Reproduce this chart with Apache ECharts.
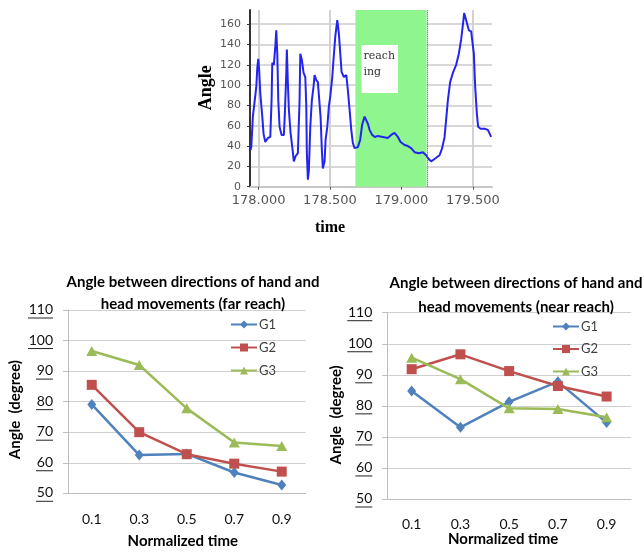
<!DOCTYPE html>
<html><head><meta charset="utf-8">
<script src="https://cdn.jsdelivr.net/npm/echarts@6/dist/echarts.min.js"></script>
<style>html,body{margin:0;padding:0;background:#fff}#c{width:644px;height:552px}</style>
</head><body><div id="c"></div>
<script>
// ---- Top chart: angle over time ----
const timeValues = [177.944,177.949,177.960,177.984,177.991,177.998,178.005,178.012,178.026,178.035,
 178.047,178.065,178.082,178.091,178.096,178.107,178.117,178.124,178.131,178.138,
 178.147,178.161,178.177,178.184,178.194,178.198,178.205,178.212,178.224,178.236,
 178.247,178.259,178.275,178.287,178.292,178.303,178.315,178.327,178.334,178.338,
 178.345,178.352,178.362,178.373,178.385,178.392,178.404,178.415,178.427,178.434,
 178.443,178.450,178.462,178.469,178.481,178.492,178.502,178.516,178.525,178.537,
 178.551,178.562,178.572,178.581,178.597,178.614,178.625,178.637,178.649,178.660,
 178.672,178.695,178.711,178.725,178.742,178.753,178.765,178.777,178.795,178.814,
 178.835,178.870,178.905,178.928,178.952,178.975,178.994,179.022,179.045,179.068,
 179.092,179.122,179.150,179.173,179.192,179.208,179.239,179.267,179.285,179.302,
 179.313,179.325,179.341,179.360,179.383,179.402,179.418,179.430,179.439,179.453,
 179.472,179.488,179.500,179.507,179.516,179.528,179.537,179.554,179.582,179.605,
 179.628];
const angleValues = [36,39,69,98,117,126,113,92,69,52,
 44,48,49,85,122,120,138,154,131,85,
 59,51,51,72,112,135,102,76,53,39,
 25,30,33,85,131,125,112,108,79,33,
 7,16,59,85,99,110,105,103,102,69,
 36,18,25,46,59,79,89,108,126,148,
 164,151,131,113,108,110,95,76,56,43,
 38,39,46,61,69,69,62,56,51,49,
 50,49,48,51,53,49,44,41,40,38,
 34,33,34,31,27,25,28,31,38,49,
 66,85,103,112,120,131,145,159,171,164,
 154,153,153,131,99,72,59,57,57,56,
 49];
const timeRange = [177.94, 179.634];
const angleRange = [0, 174];
const reachInterval = [178.678, 179.176];
const reachLabel = 'reach\ning';

// ---- Bottom charts ----
const categories = ['0.1','0.3','0.5','0.7','0.9'];
const seriesNames = ['G1','G2','G3'];
const farG1 = [79.1, 62.5, 62.9, 56.8, 52.7];
const farG2 = [85.5, 70.0, 62.8, 59.7, 57.1];
const farG3 = [96.6, 92.0, 77.8, 66.6, 65.5];
const nearG1 = [84.8, 73.1, 81.3, 87.8, 74.6];
const nearG2 = [91.8, 96.6, 91.2, 86.4, 83.0];
const nearG3 = [95.5, 88.6, 79.2, 79.0, 76.3];
const farTitle = 'Angle between directions of hand and\nhead movements (far reach)';
const nearTitle = 'Angle between directions of hand and\nhead movements (near reach)';

const colors = ['#4F81BD', '#C0504D', '#9BBB59'];
const symbols = ['diamond', 'rect', 'triangle'];
const symbolSizes = [[9, 11], 10, [11, 10]];

const chart = echarts.init(document.getElementById('c'), null, {renderer: 'canvas'});

function bottomY(gridIndex, nameGap, shift) {
  return {
    type: 'value', gridIndex, min: 50, max: 110, interval: 10,
    name: 'Angle  (degree)', nameLocation: 'middle', nameGap,
    nameTextStyle: {fontFamily: 'Lato', fontWeight: 'bold', fontSize: 15, color: '#000', padding: [0, shift, 0, 0]},
    axisLine: {show: true, lineStyle: {color: '#bdbdbd', width: 1}},
    axisTick: {show: true, length: 5, lineStyle: {color: '#bdbdbd'}},
    axisLabel: {fontFamily: 'Lato', fontSize: 14, color: '#111', margin: 15,
      formatter: v => '{v|' + v + '}\n{u' + String(v).length + '|}',
      rich: {
        v: {fontFamily: 'Lato', fontSize: 14, color: '#111', lineHeight: 16},
        u2: {width: 17, height: 1, backgroundColor: '#222', lineHeight: 1},
        u3: {width: 25, height: 1, backgroundColor: '#222', lineHeight: 1}
      }},
    splitLine: {lineStyle: {color: '#d0d0d0', width: 1}}
  };
}
function bottomX(gridIndex, nameGap, margin, shift) {
  return {
    type: 'category', gridIndex, data: categories, boundaryGap: true,
    name: 'Normalized time', nameLocation: 'middle', nameGap,
    nameTextStyle: {fontFamily: 'Lato', fontWeight: 'bold', fontSize: 15, color: '#000', padding: [0, shift, 0, 0]},
    axisLine: {lineStyle: {color: '#bdbdbd', width: 1}},
    axisTick: {show: false},
    axisLabel: {fontFamily: 'Lato', fontSize: 14, color: '#111', margin}
  };
}
function groupSeries(idx, arrays) {
  return arrays.map((arr, i) => ({
    type: 'line', name: seriesNames[i], xAxisIndex: idx, yAxisIndex: idx,
    data: arr, symbol: symbols[i], symbolSize: symbolSizes[i], showAllSymbol: true,
    lineStyle: {color: colors[i], width: 2.5}, itemStyle: {color: colors[i]},
    animation: false, z: 3 + i
  }));
}

const option = {
  animation: false,
  title: [
    {text: farTitle, left: 193, top: 271, padding: 0, textAlign: 'center',
     textStyle: {fontFamily: 'Lato', fontWeight: 'bold', fontSize: 15, lineHeight: 22, color: '#000'}},
    {text: nearTitle, left: 516, top: 271, padding: 0, textAlign: 'center',
     textStyle: {fontFamily: 'Lato', fontWeight: 'bold', fontSize: 15, lineHeight: 24, color: '#000'}}
  ],
  legend: [
    {data: seriesNames, orient: 'vertical', left: 230, top: 318, padding: 0,
     itemWidth: 26, itemHeight: 10, itemGap: 10, textStyle: {fontFamily: 'Lato', fontSize: 13, color: '#404040', padding: [0,0,0,-3]}},
    {data: seriesNames, orient: 'vertical', left: 552, top: 320, padding: 0,
     itemWidth: 26, itemHeight: 10, itemGap: 9.5, textStyle: {fontFamily: 'Lato', fontSize: 13, color: '#404040', padding: [0,0,0,-3]}}
  ],
  grid: [
    {left: 250, top: 10, width: 242, height: 176.7},
    {left: 68, top: 310, width: 237.5, height: 183.3},
    {left: 387.3, top: 312.7, width: 243.7, height: 186.3}
  ],
  xAxis: [
    {type: 'value', gridIndex: 0, min: timeRange[0], max: timeRange[1],
     minInterval: 0.5, maxInterval: 0.5,
     name: 'time', nameLocation: 'middle', nameGap: 33,
     nameTextStyle: {fontFamily: 'Liberation Serif', fontWeight: 'bold', fontSize: 16, color: '#000', padding: [0, 82, 0, 0]},
     axisLine: {lineStyle: {color: '#c8c8c8', width: 2}},
     axisTick: {show: true, length: 3, lineStyle: {color: '#555'}},
     axisLabel: {fontFamily: 'DejaVu Sans', fontSize: 13, color: '#555', margin: 7, showMinLabel: false, showMaxLabel: false,
       formatter: v => (Math.abs(v * 2 - Math.round(v * 2)) < 1e-6 ? v.toFixed(3) : '')},
     splitLine: {show: true, showMinLine: false, showMaxLine: false, lineStyle: {color: '#d2d2d2', width: 2}}},
    bottomX(1, 40, 19, 8),
    bottomX(2, 33, 18, 12)
  ],
  yAxis: [
    {type: 'value', gridIndex: 0, min: angleRange[0], max: angleRange[1],
     minInterval: 20, maxInterval: 20,
     name: 'Angle', nameLocation: 'middle', nameGap: 35,
     nameTextStyle: {fontFamily: 'Liberation Serif', fontWeight: 'bold', fontSize: 18, color: '#000', padding: [0, 0, 0, 21]},
     axisLine: {show: true, lineStyle: {color: '#333', width: 2}},
     axisTick: {show: true, length: 3, lineStyle: {color: '#333'}},
     axisLabel: {fontFamily: 'DejaVu Sans', fontSize: 11, color: '#555', margin: 9, showMaxLabel: false,
       formatter: v => (v % 20 === 0 ? String(v) : '')},
     splitLine: {show: true, showMaxLine: false, lineStyle: {color: '#d8d8d8', width: 2}}},
    bottomY(1, 45, 16),
    bottomY(2, 39, 18)
  ],
  series: [
    {type: 'line', name: 'angle', xAxisIndex: 0, yAxisIndex: 0,
     data: timeValues.map((t, i) => [t, angleValues[i]]),
     showSymbol: false, symbol: 'none', clip: true,
     lineStyle: {color: '#2424f0', width: 2}, z: 3,
     markArea: {silent: true,
       itemStyle: {color: '#8ff58f'},
       label: {show: true, position: [6, 35], formatter: reachLabel,
         backgroundColor: '#fff', padding: [3, 3, 13, 2], lineHeight: 16,
         fontFamily: 'DejaVu Serif', fontSize: 11, color: '#333'},
       data: [[{xAxis: reachInterval[0]}, {xAxis: reachInterval[1]}]]},
     markLine: {silent: true, symbol: 'none', label: {show: false},
       lineStyle: {color: '#555', type: 'dotted', width: 1},
       data: [{xAxis: reachInterval[1]}]}
    },
    ...groupSeries(1, [farG1, farG2, farG3]),
    ...groupSeries(2, [nearG1, nearG2, nearG3])
  ]
};
chart.setOption(option);
</script></body></html>
